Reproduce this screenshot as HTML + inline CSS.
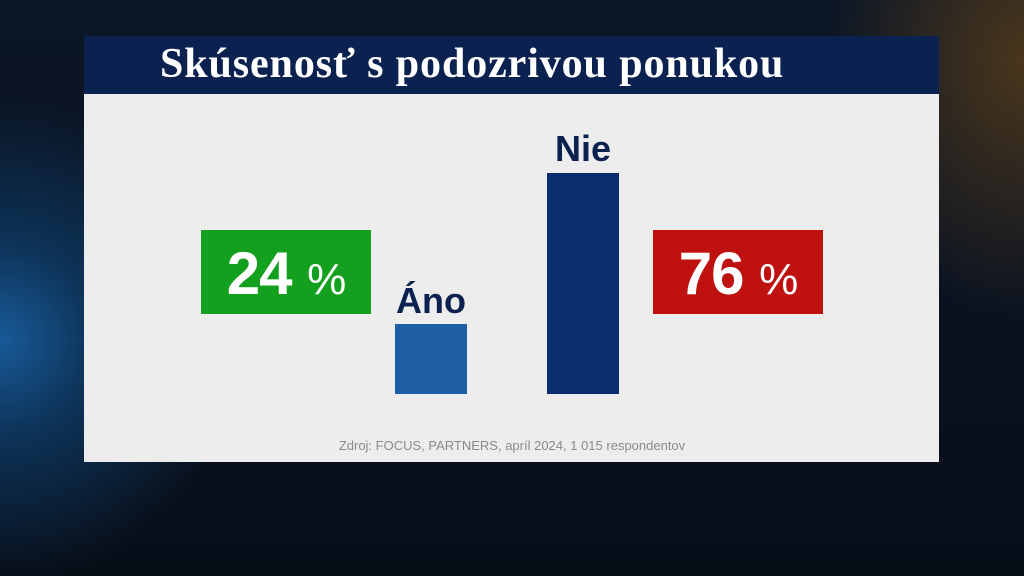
<!DOCTYPE html>
<html><head><meta charset="utf-8"><style>
*{margin:0;padding:0}
body{width:1024px;height:576px;overflow:hidden;position:relative;
background:radial-gradient(ellipse 240px 240px at 0px 340px,#185a98 0%,#0d3358 40%,rgba(8,20,40,0) 100%),
radial-gradient(ellipse 200px 260px at 1024px 60px,#4a361c 0%,rgba(40,30,20,0) 100%),
linear-gradient(180deg,#0b1626,#0a1220 60%,#080e18);font-family:"Liberation Sans",sans-serif}
.title{position:absolute;left:84px;top:36px;width:855px;height:58px;background:#0b2150}
.title span{position:absolute;left:76px;top:4px;font:bold 42px "Liberation Serif",serif;letter-spacing:0.9px;color:#fff;white-space:nowrap}
.panel{position:absolute;left:84px;top:94px;width:855px;height:368px;background:#ededed}
.box{position:absolute;top:230px;width:170px;height:84px;color:#fff;font-weight:bold;font-size:60px;text-align:center;line-height:88px;letter-spacing:-1px}
.box small{font-size:44px;font-weight:normal}
.bar{position:absolute;width:72px}
.lbl{position:absolute;width:120px;text-align:center;font-weight:bold;font-size:36px;color:#0b2150}
.src{position:absolute;left:0;width:1024px;top:438px;text-align:center;font-size:13px;color:#8a8a8a}
</style></head><body>
<div class="title"><span>Skúsenosť s podozrivou ponukou</span></div>
<div class="panel"></div>
<div class="box" style="left:201px;background:#13a01e">24 <small>%</small></div>
<div class="box" style="left:653px;background:#c01111">76 <small>%</small></div>
<div class="lbl" style="left:371px;top:280px">Áno</div>
<div class="lbl" style="left:523px;top:128px">Nie</div>
<div class="bar" style="left:395px;top:324px;height:70px;background:#1e5ea4"></div>
<div class="bar" style="left:547px;top:173px;height:221px;background:#0a2d6e"></div>
<div class="src">Zdroj: FOCUS, PARTNERS, apríl 2024, 1 015 respondentov</div>
</body></html>
